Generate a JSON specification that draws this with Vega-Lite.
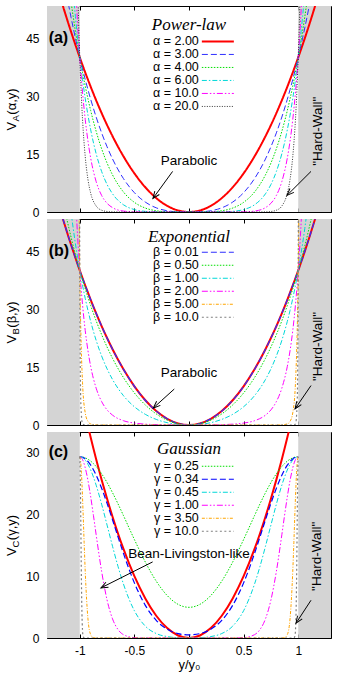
{
"$schema":"https://vega.github.io/schema/vega-lite/v6.json",
"padding":{"left":5,"top":5,"right":5,"bottom":5},
"bounds":"flush",
"spacing":7,
"config":{
 "font":"Liberation Sans",
 "view":{"stroke":null},
 "axis":{"domain":true,"domainColor":"#000","domainWidth":1,"grid":false,"ticks":true,"tickColor":"#000","tickSize":-4,"tickWidth":1,"labelFont":"Liberation Sans","labelFontSize":12,"labelColor":"#000","labelPadding":12,"titleFont":"Liberation Sans","titleFontSize":13,"titleFontWeight":"normal","titleColor":"#000","zindex":1},
 "legend":{"labelFont":"Liberation Sans","labelColor":"#000"}
},
"datasets":{
"A":[
{"y":-1.18,"a2":55.7},
{"y":-1.15,"a2":52.9,"a3":60.8},
{"y":-1.12,"a2":50.18,"a3":56.2},
{"y":-1.1,"a2":48.4,"a3":53.24,"a4":58.56},
{"y":-1.08,"a2":46.66,"a3":50.39,"a4":54.42},
{"y":-1.06,"a2":44.94,"a3":47.64,"a4":50.5,"a6":56.74},
{"y":-1.04,"a2":43.26,"a3":44.99,"a4":46.79,"a6":50.61,"a10":59.21},
{"y":-1.02,"a2":41.62,"a3":42.45,"a4":43.3,"a6":45.05,"a10":48.76,"a20":59.44},
{"y":-1.01,"a2":40.8,"a3":41.21,"a4":41.62,"a6":42.46,"a10":44.18,"a20":48.81},
{"y":-1,"a2":40,"a3":40,"a4":40,"a6":40,"a10":40,"a20":40},
{"y":-0.99,"a2":39.2,"a3":38.81,"a4":38.42,"a6":37.66,"a10":36.18,"a20":32.72},
{"y":-0.975,"a2":38.03,"a3":37.07,"a4":36.15,"a6":34.36,"a10":31.05,"a20":24.11},
{"y":-0.95,"a2":36.1,"a3":34.3,"a4":32.58,"a6":29.4,"a10":23.95,"a20":14.34},
{"y":-0.925,"a2":34.23,"a3":31.66,"a4":29.28,"a6":25.06,"a10":18.34,"a20":8.41},
{"y":-0.9,"a2":32.4,"a3":29.16,"a4":26.24,"a6":21.26,"a10":13.95,"a20":4.86},
{"y":-0.85,"a2":28.9,"a3":24.57,"a4":20.88,"a6":15.09,"a10":7.87,"a20":1.55},
{"y":-0.8,"a2":25.6,"a3":20.48,"a4":16.38,"a6":10.49,"a10":4.29,"a20":0.46},
{"y":-0.75,"a2":22.5,"a3":16.88,"a4":12.66,"a6":7.12,"a10":2.25,"a20":0.13},
{"y":-0.7,"a2":19.6,"a3":13.72,"a4":9.6,"a6":4.71,"a10":1.13,"a20":0.03},
{"y":-0.6,"a2":14.4,"a3":8.64,"a4":5.18,"a6":1.87,"a10":0.24,"a20":0},
{"y":-0.5,"a2":10,"a3":5,"a4":2.5,"a6":0.63,"a10":0.04,"a20":0},
{"y":-0.4,"a2":6.4,"a3":2.56,"a4":1.02,"a6":0.16,"a10":0,"a20":0},
{"y":-0.3,"a2":3.6,"a3":1.08,"a4":0.32,"a6":0.03,"a10":0,"a20":0},
{"y":-0.2,"a2":1.6,"a3":0.32,"a4":0.06,"a6":0,"a10":0,"a20":0},
{"y":-0.1,"a2":0.4,"a3":0.04,"a4":0,"a6":0,"a10":0,"a20":0},
{"y":0,"a2":0,"a3":0,"a4":0,"a6":0,"a10":0,"a20":0},
{"y":0.1,"a2":0.4,"a3":0.04,"a4":0,"a6":0,"a10":0,"a20":0},
{"y":0.2,"a2":1.6,"a3":0.32,"a4":0.06,"a6":0,"a10":0,"a20":0},
{"y":0.3,"a2":3.6,"a3":1.08,"a4":0.32,"a6":0.03,"a10":0,"a20":0},
{"y":0.4,"a2":6.4,"a3":2.56,"a4":1.02,"a6":0.16,"a10":0,"a20":0},
{"y":0.5,"a2":10,"a3":5,"a4":2.5,"a6":0.63,"a10":0.04,"a20":0},
{"y":0.6,"a2":14.4,"a3":8.64,"a4":5.18,"a6":1.87,"a10":0.24,"a20":0},
{"y":0.7,"a2":19.6,"a3":13.72,"a4":9.6,"a6":4.71,"a10":1.13,"a20":0.03},
{"y":0.75,"a2":22.5,"a3":16.88,"a4":12.66,"a6":7.12,"a10":2.25,"a20":0.13},
{"y":0.8,"a2":25.6,"a3":20.48,"a4":16.38,"a6":10.49,"a10":4.29,"a20":0.46},
{"y":0.85,"a2":28.9,"a3":24.57,"a4":20.88,"a6":15.09,"a10":7.87,"a20":1.55},
{"y":0.9,"a2":32.4,"a3":29.16,"a4":26.24,"a6":21.26,"a10":13.95,"a20":4.86},
{"y":0.925,"a2":34.23,"a3":31.66,"a4":29.28,"a6":25.06,"a10":18.34,"a20":8.41},
{"y":0.95,"a2":36.1,"a3":34.3,"a4":32.58,"a6":29.4,"a10":23.95,"a20":14.34},
{"y":0.975,"a2":38.03,"a3":37.07,"a4":36.15,"a6":34.36,"a10":31.05,"a20":24.11},
{"y":0.99,"a2":39.2,"a3":38.81,"a4":38.42,"a6":37.66,"a10":36.18,"a20":32.72},
{"y":1,"a2":40,"a3":40,"a4":40,"a6":40,"a10":40,"a20":40},
{"y":1.01,"a2":40.8,"a3":41.21,"a4":41.62,"a6":42.46,"a10":44.18,"a20":48.81},
{"y":1.02,"a2":41.62,"a3":42.45,"a4":43.3,"a6":45.05,"a10":48.76,"a20":59.44},
{"y":1.04,"a2":43.26,"a3":44.99,"a4":46.79,"a6":50.61,"a10":59.21},
{"y":1.06,"a2":44.94,"a3":47.64,"a4":50.5,"a6":56.74},
{"y":1.08,"a2":46.66,"a3":50.39,"a4":54.42},
{"y":1.1,"a2":48.4,"a3":53.24,"a4":58.56},
{"y":1.12,"a2":50.18,"a3":56.2},
{"y":1.15,"a2":52.9,"a3":60.8},
{"y":1.18,"a2":55.7}
],
"B":[
{"y":-1.18,"p":55.7,"e001":55.7},
{"y":-1.15,"p":52.9,"e001":52.9,"e05":57.33},
{"y":-1.12,"p":50.18,"e001":50.18,"e05":53.47},
{"y":-1.1,"p":48.4,"e001":48.4,"e05":51.01},
{"y":-1.08,"p":46.66,"e001":46.66,"e05":48.64,"e1":55.1},
{"y":-1.06,"p":44.94,"e001":44.94,"e05":46.35,"e1":50.86},
{"y":-1.04,"p":43.26,"e001":43.26,"e05":44.16,"e1":46.94,"e2":59.96},
{"y":-1.02,"p":41.62,"e001":41.62,"e05":42.04,"e1":43.33,"e2":48.92},
{"y":-1.01,"p":40.8,"e001":40.8,"e05":41.01,"e1":41.63,"e2":44.22,"e5":67.4,"e10":304},
{"y":-1,"p":40,"e001":40,"e05":40,"e1":40,"e2":40,"e5":40,"e10":40},
{"y":-0.995,"p":39.6,"e001":39.6,"e05":39.5,"e1":39.21,"e2":38.05,"e5":30.86,"e10":14.6},
{"y":-0.99,"p":39.2,"e001":39.2,"e05":39.01,"e1":38.43,"e2":36.2,"e5":23.84,"e10":5.36},
{"y":-0.975,"p":38.03,"e001":38.03,"e05":37.56,"e1":36.19,"e2":31.21,"e5":11.07,"e10":0.27},
{"y":-0.95,"p":36.1,"e001":36.1,"e05":35.23,"e1":32.75,"e2":24.44,"e5":3.15,"e10":0},
{"y":-0.925,"p":34.23,"e001":34.23,"e05":33.01,"e1":29.63,"e2":19.21,"e5":0.93,"e10":0},
{"y":-0.9,"p":32.4,"e001":32.4,"e05":30.9,"e1":26.8,"e2":15.15,"e5":0.28,"e10":0},
{"y":-0.85,"p":28.9,"e001":28.9,"e05":26.96,"e1":21.9,"e2":9.53,"e5":0.03,"e10":0},
{"y":-0.8,"p":25.6,"e001":25.6,"e05":23.4,"e1":17.86,"e2":6.07,"e5":0,"e10":0},
{"y":-0.75,"p":22.5,"e001":22.5,"e05":20.17,"e1":14.53,"e2":3.91,"e5":0,"e10":0},
{"y":-0.7,"p":19.6,"e001":19.6,"e05":17.25,"e1":11.77,"e2":2.55,"e5":0,"e10":0},
{"y":-0.6,"p":14.4,"e001":14.4,"e05":12.27,"e1":7.59,"e2":1.11,"e5":0,"e10":0},
{"y":-0.5,"p":10,"e001":10,"e05":8.29,"e1":4.72,"e2":0.5,"e5":0,"e10":0},
{"y":-0.4,"p":6.4,"e001":6.4,"e05":5.19,"e1":2.76,"e2":0.22,"e5":0,"e10":0},
{"y":-0.3,"p":3.6,"e001":3.6,"e05":2.87,"e1":1.45,"e2":0.1,"e5":0,"e10":0},
{"y":-0.2,"p":1.6,"e001":1.6,"e05":1.26,"e1":0.61,"e2":0.03,"e5":0,"e10":0},
{"y":-0.1,"p":0.4,"e001":0.4,"e05":0.31,"e1":0.15,"e2":0.01,"e5":0,"e10":0},
{"y":0,"p":0,"e001":0,"e05":0,"e1":0,"e2":0,"e5":0,"e10":0},
{"y":0.1,"p":0.4,"e001":0.4,"e05":0.31,"e1":0.15,"e2":0.01,"e5":0,"e10":0},
{"y":0.2,"p":1.6,"e001":1.6,"e05":1.26,"e1":0.61,"e2":0.03,"e5":0,"e10":0},
{"y":0.3,"p":3.6,"e001":3.6,"e05":2.87,"e1":1.45,"e2":0.1,"e5":0,"e10":0},
{"y":0.4,"p":6.4,"e001":6.4,"e05":5.19,"e1":2.76,"e2":0.22,"e5":0,"e10":0},
{"y":0.5,"p":10,"e001":10,"e05":8.29,"e1":4.72,"e2":0.5,"e5":0,"e10":0},
{"y":0.6,"p":14.4,"e001":14.4,"e05":12.27,"e1":7.59,"e2":1.11,"e5":0,"e10":0},
{"y":0.7,"p":19.6,"e001":19.6,"e05":17.25,"e1":11.77,"e2":2.55,"e5":0,"e10":0},
{"y":0.75,"p":22.5,"e001":22.5,"e05":20.17,"e1":14.53,"e2":3.91,"e5":0,"e10":0},
{"y":0.8,"p":25.6,"e001":25.6,"e05":23.4,"e1":17.86,"e2":6.07,"e5":0,"e10":0},
{"y":0.85,"p":28.9,"e001":28.9,"e05":26.96,"e1":21.9,"e2":9.53,"e5":0.03,"e10":0},
{"y":0.9,"p":32.4,"e001":32.4,"e05":30.9,"e1":26.8,"e2":15.15,"e5":0.28,"e10":0},
{"y":0.925,"p":34.23,"e001":34.23,"e05":33.01,"e1":29.63,"e2":19.21,"e5":0.93,"e10":0},
{"y":0.95,"p":36.1,"e001":36.1,"e05":35.23,"e1":32.75,"e2":24.44,"e5":3.15,"e10":0},
{"y":0.975,"p":38.03,"e001":38.03,"e05":37.56,"e1":36.19,"e2":31.21,"e5":11.07,"e10":0.27},
{"y":0.99,"p":39.2,"e001":39.2,"e05":39.01,"e1":38.43,"e2":36.2,"e5":23.84,"e10":5.36},
{"y":0.995,"p":39.6,"e001":39.6,"e05":39.5,"e1":39.21,"e2":38.05,"e5":30.86,"e10":14.6},
{"y":1,"p":40,"e001":40,"e05":40,"e1":40,"e2":40,"e5":40,"e10":40},
{"y":1.01,"p":40.8,"e001":40.8,"e05":41.01,"e1":41.63,"e2":44.22,"e5":67.4,"e10":304},
{"y":1.02,"p":41.62,"e001":41.62,"e05":42.04,"e1":43.33,"e2":48.92},
{"y":1.04,"p":43.26,"e001":43.26,"e05":44.16,"e1":46.94,"e2":59.96},
{"y":1.06,"p":44.94,"e001":44.94,"e05":46.35,"e1":50.86},
{"y":1.08,"p":46.66,"e001":46.66,"e05":48.64,"e1":55.1},
{"y":1.1,"p":48.4,"e001":48.4,"e05":51.01},
{"y":1.12,"p":50.18,"e001":50.18,"e05":53.47},
{"y":1.15,"p":52.9,"e001":52.9,"e05":57.33},
{"y":1.18,"p":55.7,"e001":55.7}
],
"C":[
{"y":-1,"g025":29.3,"g034":29.3,"g045":29.3,"g1":29.3,"g35":29.3,"g10":29.3},
{"y":-0.995,"g35":29.01,"g10":25.86},
{"y":-0.99,"g025":29.29,"g034":29.29,"g045":29.28,"g1":29.23,"g35":28.15,"g10":17.77},
{"y":-0.985,"g35":26.78,"g10":9.51},
{"y":-0.98,"g025":29.27,"g034":29.24,"g045":29.21,"g1":29.01,"g35":24.97,"g10":3.97},
{"y":-0.975,"g35":22.82,"g10":1.29},
{"y":-0.97,"g025":29.24,"g034":29.17,"g045":29.1,"g1":28.65,"g35":20.44,"g10":0.33},
{"y":-0.96,"g025":29.18,"g034":29.08,"g045":28.95,"g1":28.15,"g35":15.45,"g10":0.01},
{"y":-0.95,"p":36.1,"g025":29.12,"g034":28.95,"g045":28.75,"g1":27.52,"g35":10.78,"g10":0},
{"y":-0.925,"p":34.23,"g025":28.9,"g034":28.53,"g045":28.08,"g1":25.46,"g35":3.09,"g10":0},
{"y":-0.9,"p":32.4,"g025":28.59,"g034":27.94,"g045":27.16,"g1":22.82,"g35":0.54,"g10":0},
{"y":-0.875,"p":30.63,"g025":28.19,"g034":27.2,"g045":26.03,"g1":19.83,"g35":0.06,"g10":0},
{"y":-0.85,"p":28.9,"g025":27.72,"g034":26.32,"g045":24.71,"g1":16.7,"g35":0,"g10":0},
{"y":-0.8,"p":25.6,"g025":26.55,"g034":24.22,"g045":21.64,"g1":10.78,"g35":0,"g10":0},
{"y":-0.75,"p":22.5,"g025":25.13,"g034":21.76,"g045":18.25,"g1":6.14,"g35":0,"g10":0},
{"y":-0.7,"p":19.6,"g025":23.48,"g034":19.09,"g045":14.82,"g1":3.09,"g35":0,"g10":0},
{"y":-0.65,"p":16.9,"g025":21.69,"g034":16.35,"g045":11.58,"g1":1.37,"g35":0,"g10":0},
{"y":-0.6,"p":14.4,"g025":19.79,"g034":13.68,"g045":8.72,"g1":0.54,"g35":0,"g10":0},
{"y":-0.5,"p":10,"g025":15.92,"g034":8.91,"g045":4.41,"g1":0.06,"g35":0,"g10":0},
{"y":-0.4,"p":6.4,"g025":12.28,"g034":5.28,"g045":1.92,"g1":0,"g35":0,"g10":0},
{"y":-0.3,"p":3.6,"g025":9.19,"g034":2.85,"g045":0.72,"g1":0,"g35":0,"g10":0},
{"y":-0.2,"p":1.6,"g025":6.87,"g034":1.42,"g045":0.23,"g1":0,"g35":0,"g10":0},
{"y":-0.1,"p":0.4,"g025":5.44,"g034":0.71,"g045":0.06,"g1":0,"g35":0,"g10":0},
{"y":0,"p":0,"g025":4.96,"g034":0.5,"g045":0.03,"g1":0,"g35":0,"g10":0},
{"y":0.1,"p":0.4,"g025":5.44,"g034":0.71,"g045":0.06,"g1":0,"g35":0,"g10":0},
{"y":0.2,"p":1.6,"g025":6.87,"g034":1.42,"g045":0.23,"g1":0,"g35":0,"g10":0},
{"y":0.3,"p":3.6,"g025":9.19,"g034":2.85,"g045":0.72,"g1":0,"g35":0,"g10":0},
{"y":0.4,"p":6.4,"g025":12.28,"g034":5.28,"g045":1.92,"g1":0,"g35":0,"g10":0},
{"y":0.5,"p":10,"g025":15.92,"g034":8.91,"g045":4.41,"g1":0.06,"g35":0,"g10":0},
{"y":0.6,"p":14.4,"g025":19.79,"g034":13.68,"g045":8.72,"g1":0.54,"g35":0,"g10":0},
{"y":0.65,"p":16.9,"g025":21.69,"g034":16.35,"g045":11.58,"g1":1.37,"g35":0,"g10":0},
{"y":0.7,"p":19.6,"g025":23.48,"g034":19.09,"g045":14.82,"g1":3.09,"g35":0,"g10":0},
{"y":0.75,"p":22.5,"g025":25.13,"g034":21.76,"g045":18.25,"g1":6.14,"g35":0,"g10":0},
{"y":0.8,"p":25.6,"g025":26.55,"g034":24.22,"g045":21.64,"g1":10.78,"g35":0,"g10":0},
{"y":0.85,"p":28.9,"g025":27.72,"g034":26.32,"g045":24.71,"g1":16.7,"g35":0,"g10":0},
{"y":0.875,"p":30.63,"g025":28.19,"g034":27.2,"g045":26.03,"g1":19.83,"g35":0.06,"g10":0},
{"y":0.9,"p":32.4,"g025":28.59,"g034":27.94,"g045":27.16,"g1":22.82,"g35":0.54,"g10":0},
{"y":0.925,"p":34.23,"g025":28.9,"g034":28.53,"g045":28.08,"g1":25.46,"g35":3.09,"g10":0},
{"y":0.95,"p":36.1,"g025":29.12,"g034":28.95,"g045":28.75,"g1":27.52,"g35":10.78,"g10":0},
{"y":0.96,"g025":29.18,"g034":29.08,"g045":28.95,"g1":28.15,"g35":15.45,"g10":0.01},
{"y":0.97,"g025":29.24,"g034":29.17,"g045":29.1,"g1":28.65,"g35":20.44,"g10":0.33},
{"y":0.975,"g35":22.82,"g10":1.29},
{"y":0.98,"g025":29.27,"g034":29.24,"g045":29.21,"g1":29.01,"g35":24.97,"g10":3.97},
{"y":0.985,"g35":26.78,"g10":9.51},
{"y":0.99,"g025":29.29,"g034":29.29,"g045":29.28,"g1":29.23,"g35":28.15,"g10":17.77},
{"y":0.995,"g35":29.01,"g10":25.86},
{"y":1,"g025":29.3,"g034":29.3,"g045":29.3,"g1":29.3,"g35":29.3,"g10":29.3}
]
},
"resolve":{"scale":{"color":"independent","strokeDash":"independent","strokeWidth":"independent"}},
"vconcat":[
{
"width":284,"height":206,
"data":{"values":[{}]},
"resolve":{"axis":{"x":"independent","y":"independent"}},
"layer":[
{"mark":{"type":"rect","color":"#d4d4d4"},"encoding":{"x":{"datum":-1.3,"type":"quantitative","scale":{"domain":[-1.3,1.3],"nice":false,"zero":false},"axis":null},"x2":{"datum":-1},"y":{"datum":0,"type":"quantitative","scale":{"domain":[0,53.3],"nice":false,"zero":false},"axis":null},"y2":{"datum":53.3}}},
{"mark":{"type":"rect","color":"#d4d4d4"},"encoding":{"x":{"datum":1,"type":"quantitative","scale":{"domain":[-1.3,1.3],"nice":false,"zero":false},"axis":null},"x2":{"datum":1.3},"y":{"datum":0,"type":"quantitative","scale":{"domain":[0,53.3],"nice":false,"zero":false},"axis":null},"y2":{"datum":53.3}}},
{"data":{"name":"A"},"transform":[{"fold":["a2","a3","a4","a6","a10","a20"],"as":["s","v"]},{"filter":"isValid(datum.v)"}],
 "mark":{"type":"line","clip":true,"interpolate":"monotone"},
 "encoding":{
  "x":{"field":"y","type":"quantitative","scale":{"domain":[-1.3,1.3],"nice":false,"zero":false},"axis":{"orient":"bottom","values":[-1,-0.5,0,0.5,1],"labels":false,"title":null}},
  "y":{"field":"v","type":"quantitative","scale":{"domain":[0,53.3],"nice":false,"zero":false},"axis":{"orient":"left","values":[0,15,30,45],"title":"V\u00a0\u00a0(α,y)","titleX":-32,"titleY":103,"titleAngle":270,"titleAlign":"center","titleBaseline":"alphabetic"}},
  "color":{"field":"s","type":"nominal","scale":{"domain":["a2","a3","a4","a6","a10","a20"],"range":["#ff0000","#2f2fff","#00e000","#00d8d8","#ff00ff","#000000"]},
   "legend":{"title":null,"orient":"none","legendX":164.6,"legendY":29.2,"symbolType":"M-8,0H8","symbolSize":16,"rowPadding":-0.3,"labelAlign":"right","labelOffset":-25.3,"labelFontSize":12.5,"padding":0,
   "labelExpr":"{'a2':'α = 2.00','a3':'α = 3.00','a4':'α = 4.00','a6':'α = 6.00','a10':'α = 10.0','a20':'α = 20.0'}[datum.label]"}},
  "strokeDash":{"field":"s","type":"nominal","scale":{"domain":["a2","a3","a4","a6","a10","a20"],"range":[[1,0],[6,3],[1.5,1.5],[5,2,1.5,2],[6,2,1.5,2,1.5,2],[1,1.5]]}},
  "strokeWidth":{"field":"s","type":"nominal","scale":{"type":"ordinal","domain":["a2","a3","a4","a6","a10","a20"],"range":[2,1,1,1,1,0.8]}}
 }},
{"mark":{"type":"point","opacity":0},"encoding":{"x":{"datum":0,"type":"quantitative","scale":{"domain":[-1.3,1.3],"nice":false,"zero":false},"axis":{"orient":"top","values":[-1,-0.5,0,0.5,1],"labels":false,"title":null}},"y":{"datum":0,"type":"quantitative","scale":{"domain":[0,53.3],"nice":false,"zero":false},"axis":{"orient":"right","values":[0,15,30,45],"labels":false,"title":null}}}},
{"mark":{"type":"point","opacity":0},"encoding":{"x":{"datum":0,"type":"quantitative","scale":{"domain":[-1.3,1.3],"nice":false,"zero":false},"axis":null},"y":{"datum":0,"type":"quantitative","scale":{"domain":[0,53.3],"nice":false,"zero":false},"axis":{"orient":"left","labels":false,"ticks":false,"domain":false,"title":"A","titleX":-29,"titleY":111.8,"titleAngle":270,"titleAlign":"center","titleBaseline":"alphabetic","titleFontSize":9.5}}}},
{"mark":{"type":"text","text":"Power-law","font":"Liberation Serif","fontStyle":"italic","fontSize":17},"encoding":{"x":{"datum":0,"type":"quantitative","scale":{"domain":[-1.3,1.3],"nice":false,"zero":false},"axis":null},"y":{"datum":48.5,"type":"quantitative","scale":{"domain":[0,53.3],"nice":false,"zero":false},"axis":null}}},
{"mark":{"type":"text","text":"(a)","fontWeight":"bold","fontSize":16,"align":"left"},"encoding":{"x":{"datum":-1.285,"type":"quantitative","scale":{"domain":[-1.3,1.3],"nice":false,"zero":false},"axis":null},"y":{"datum":45,"type":"quantitative","scale":{"domain":[0,53.3],"nice":false,"zero":false},"axis":null}}},
{"mark":{"type":"text","text":"Parabolic","fontSize":13.5},"encoding":{"x":{"datum":0,"type":"quantitative","scale":{"domain":[-1.3,1.3],"nice":false,"zero":false},"axis":null},"y":{"datum":13.1,"type":"quantitative","scale":{"domain":[0,53.3],"nice":false,"zero":false},"axis":null}}},
{"mark":{"type":"text","text":"\"Hard-Wall\"","fontSize":13.5,"angle":270},"encoding":{"x":{"datum":1.178,"type":"quantitative","scale":{"domain":[-1.3,1.3],"nice":false,"zero":false},"axis":null},"y":{"datum":20.9,"type":"quantitative","scale":{"domain":[0,53.3],"nice":false,"zero":false},"axis":null}}},
{"mark":{"type":"rule","color":"#000","strokeWidth":1},"encoding":{"x":{"datum":-0.15,"type":"quantitative","scale":{"domain":[-1.3,1.3],"nice":false,"zero":false},"axis":null},"x2":{"datum":-0.33},"y":{"datum":10.5,"type":"quantitative","scale":{"domain":[0,53.3],"nice":false,"zero":false},"axis":null},"y2":{"datum":3.5}}},
{"mark":{"type":"rule","color":"#000","strokeWidth":1},"encoding":{"x":{"datum":1.117,"type":"quantitative","scale":{"domain":[-1.3,1.3],"nice":false,"zero":false},"axis":null},"x2":{"datum":0.897},"y":{"datum":10.5,"type":"quantitative","scale":{"domain":[0,53.3],"nice":false,"zero":false},"axis":null},"y2":{"datum":4.3}}},
{"mark":{"type":"point","shape":"M-0.4,1L0,0L0.4,1","size":196,"filled":false,"stroke":"#000","strokeWidth":1,"opacity":1,"angle":216},"encoding":{"x":{"datum":-0.33,"type":"quantitative","scale":{"domain":[-1.3,1.3],"nice":false,"zero":false},"axis":null},"y":{"datum":3.5,"type":"quantitative","scale":{"domain":[0,53.3],"nice":false,"zero":false},"axis":null}}},
{"mark":{"type":"point","shape":"M-0.4,1L0,0L0.4,1","size":196,"filled":false,"stroke":"#000","strokeWidth":1,"opacity":1,"angle":225},"encoding":{"x":{"datum":0.897,"type":"quantitative","scale":{"domain":[-1.3,1.3],"nice":false,"zero":false},"axis":null},"y":{"datum":4.3,"type":"quantitative","scale":{"domain":[0,53.3],"nice":false,"zero":false},"axis":null}}}
]
},
{
"width":284,"height":206,
"data":{"values":[{}]},
"resolve":{"axis":{"x":"independent","y":"independent"}},
"layer":[
{"mark":{"type":"rect","color":"#d4d4d4"},"encoding":{"x":{"datum":-1.3,"type":"quantitative","scale":{"domain":[-1.3,1.3],"nice":false,"zero":false},"axis":null},"x2":{"datum":-1},"y":{"datum":0,"type":"quantitative","scale":{"domain":[0,53.3],"nice":false,"zero":false},"axis":null},"y2":{"datum":53.3}}},
{"mark":{"type":"rect","color":"#d4d4d4"},"encoding":{"x":{"datum":1,"type":"quantitative","scale":{"domain":[-1.3,1.3],"nice":false,"zero":false},"axis":null},"x2":{"datum":1.3},"y":{"datum":0,"type":"quantitative","scale":{"domain":[0,53.3],"nice":false,"zero":false},"axis":null},"y2":{"datum":53.3}}},
{"data":{"name":"B"},"transform":[{"filter":"isValid(datum.p)"}],"mark":{"type":"line","clip":true,"interpolate":"monotone","color":"#ff0000","strokeWidth":2},
 "encoding":{"x":{"field":"y","type":"quantitative","scale":{"domain":[-1.3,1.3],"nice":false,"zero":false},"axis":null},"y":{"field":"p","type":"quantitative","scale":{"domain":[0,53.3],"nice":false,"zero":false},"axis":null}}},
{"data":{"name":"B"},"transform":[{"fold":["e001","e05","e1","e2","e5","e10"],"as":["s","v"]},{"filter":"isValid(datum.v)"}],
 "mark":{"type":"line","clip":true,"interpolate":"monotone"},
 "encoding":{
  "x":{"field":"y","type":"quantitative","scale":{"domain":[-1.3,1.3],"nice":false,"zero":false},"axis":{"orient":"bottom","values":[-1,-0.5,0,0.5,1],"labels":false,"title":null}},
  "y":{"field":"v","type":"quantitative","scale":{"domain":[0,53.3],"nice":false,"zero":false},"axis":{"orient":"left","values":[0,15,30,45],"title":"V\u00a0\u00a0(β,y)","titleX":-32,"titleY":103,"titleAngle":270,"titleAlign":"center","titleBaseline":"alphabetic"}},
  "color":{"field":"s","type":"nominal","scale":{"domain":["e001","e05","e1","e2","e5","e10"],"range":["#2f2fff","#00e000","#00d8d8","#ff00ff","#ffa500","#808080"]},
   "legend":{"title":null,"orient":"none","legendX":164.6,"legendY":27,"symbolType":"M-8,0H8","symbolSize":16,"rowPadding":0,"labelAlign":"right","labelOffset":-25.3,"labelFontSize":12.5,"padding":0,
   "labelExpr":"{'e001':'β = 0.01','e05':'β = 0.50','e1':'β = 1.00','e2':'β = 2.00','e5':'β = 5.00','e10':'β = 10.0'}[datum.label]"}},
  "strokeDash":{"field":"s","type":"nominal","scale":{"domain":["e001","e05","e1","e2","e5","e10"],"range":[[6,3],[1.5,1.5],[5,2,1.5,2],[6,2,1.5,2,1.5,2],[3,1.5,1,1.5],[2,2.5]]}},
  "strokeWidth":{"field":"s","type":"nominal","scale":{"type":"ordinal","domain":["e001","e05","e1","e2","e5","e10"],"range":[1.2,1,1,1,1,1.2]}}
 }},
{"mark":{"type":"point","opacity":0},"encoding":{"x":{"datum":0,"type":"quantitative","scale":{"domain":[-1.3,1.3],"nice":false,"zero":false},"axis":{"orient":"top","values":[-1,-0.5,0,0.5,1],"labels":false,"title":null}},"y":{"datum":0,"type":"quantitative","scale":{"domain":[0,53.3],"nice":false,"zero":false},"axis":{"orient":"right","values":[0,15,30,45],"labels":false,"title":null}}}},
{"mark":{"type":"point","opacity":0},"encoding":{"x":{"datum":0,"type":"quantitative","scale":{"domain":[-1.3,1.3],"nice":false,"zero":false},"axis":null},"y":{"datum":0,"type":"quantitative","scale":{"domain":[0,53.3],"nice":false,"zero":false},"axis":{"orient":"left","labels":false,"ticks":false,"domain":false,"title":"B","titleX":-29,"titleY":111.8,"titleAngle":270,"titleAlign":"center","titleBaseline":"alphabetic","titleFontSize":9.5}}}},
{"mark":{"type":"text","text":"Exponential","font":"Liberation Serif","fontStyle":"italic","fontSize":17},"encoding":{"x":{"datum":0,"type":"quantitative","scale":{"domain":[-1.3,1.3],"nice":false,"zero":false},"axis":null},"y":{"datum":48.6,"type":"quantitative","scale":{"domain":[0,53.3],"nice":false,"zero":false},"axis":null}}},
{"mark":{"type":"text","text":"(b)","fontWeight":"bold","fontSize":16,"align":"left"},"encoding":{"x":{"datum":-1.285,"type":"quantitative","scale":{"domain":[-1.3,1.3],"nice":false,"zero":false},"axis":null},"y":{"datum":45,"type":"quantitative","scale":{"domain":[0,53.3],"nice":false,"zero":false},"axis":null}}},
{"mark":{"type":"text","text":"Parabolic","fontSize":13.5},"encoding":{"x":{"datum":0,"type":"quantitative","scale":{"domain":[-1.3,1.3],"nice":false,"zero":false},"axis":null},"y":{"datum":13.5,"type":"quantitative","scale":{"domain":[0,53.3],"nice":false,"zero":false},"axis":null}}},
{"mark":{"type":"text","text":"\"Hard-Wall\"","fontSize":13.5,"angle":270},"encoding":{"x":{"datum":1.178,"type":"quantitative","scale":{"domain":[-1.3,1.3],"nice":false,"zero":false},"axis":null},"y":{"datum":20.3,"type":"quantitative","scale":{"domain":[0,53.3],"nice":false,"zero":false},"axis":null}}},
{"mark":{"type":"rule","color":"#000","strokeWidth":1},"encoding":{"x":{"datum":-0.135,"type":"quantitative","scale":{"domain":[-1.3,1.3],"nice":false,"zero":false},"axis":null},"x2":{"datum":-0.327},"y":{"datum":9.3,"type":"quantitative","scale":{"domain":[0,53.3],"nice":false,"zero":false},"axis":null},"y2":{"datum":4.4}}},
{"mark":{"type":"rule","color":"#000","strokeWidth":1},"encoding":{"x":{"datum":1.117,"type":"quantitative","scale":{"domain":[-1.3,1.3],"nice":false,"zero":false},"axis":null},"x2":{"datum":0.971},"y":{"datum":10.2,"type":"quantitative","scale":{"domain":[0,53.3],"nice":false,"zero":false},"axis":null},"y2":{"datum":4.2}}},
{"mark":{"type":"point","shape":"M-0.4,1L0,0L0.4,1","size":196,"filled":false,"stroke":"#000","strokeWidth":1,"opacity":1,"angle":228},"encoding":{"x":{"datum":-0.327,"type":"quantitative","scale":{"domain":[-1.3,1.3],"nice":false,"zero":false},"axis":null},"y":{"datum":4.4,"type":"quantitative","scale":{"domain":[0,53.3],"nice":false,"zero":false},"axis":null}}},
{"mark":{"type":"point","shape":"M-0.4,1L0,0L0.4,1","size":196,"filled":false,"stroke":"#000","strokeWidth":1,"opacity":1,"angle":214.4},"encoding":{"x":{"datum":0.971,"type":"quantitative","scale":{"domain":[-1.3,1.3],"nice":false,"zero":false},"axis":null},"y":{"datum":4.2,"type":"quantitative","scale":{"domain":[0,53.3],"nice":false,"zero":false},"axis":null}}}
]
},
{
"width":284,"height":206,
"data":{"values":[{}]},
"resolve":{"axis":{"x":"independent","y":"independent"}},
"layer":[
{"mark":{"type":"rect","color":"#d4d4d4"},"encoding":{"x":{"datum":-1.3,"type":"quantitative","scale":{"domain":[-1.3,1.3],"nice":false,"zero":false},"axis":null},"x2":{"datum":-1},"y":{"datum":0,"type":"quantitative","scale":{"domain":[0,33.3],"nice":false,"zero":false},"axis":null},"y2":{"datum":33.3}}},
{"mark":{"type":"rect","color":"#d4d4d4"},"encoding":{"x":{"datum":1,"type":"quantitative","scale":{"domain":[-1.3,1.3],"nice":false,"zero":false},"axis":null},"x2":{"datum":1.3},"y":{"datum":0,"type":"quantitative","scale":{"domain":[0,33.3],"nice":false,"zero":false},"axis":null},"y2":{"datum":33.3}}},
{"data":{"name":"C"},"transform":[{"filter":"isValid(datum.p)"}],"mark":{"type":"line","clip":true,"interpolate":"monotone","color":"#ff0000","strokeWidth":2},
 "encoding":{"x":{"field":"y","type":"quantitative","scale":{"domain":[-1.3,1.3],"nice":false,"zero":false},"axis":null},"y":{"field":"p","type":"quantitative","scale":{"domain":[0,33.3],"nice":false,"zero":false},"axis":null}}},
{"data":{"name":"C"},"transform":[{"fold":["g025","g034","g045","g1","g35","g10"],"as":["s","v"]},{"filter":"isValid(datum.v)"}],
 "mark":{"type":"line","clip":true,"interpolate":"monotone"},
 "encoding":{
  "x":{"field":"y","type":"quantitative","scale":{"domain":[-1.3,1.3],"nice":false,"zero":false},"axis":{"orient":"bottom","values":[-1,-0.5,0,0.5,1],"labelExpr":"datum.value","labelPadding":11,"title":"y/y₀","titlePadding":2}},
  "y":{"field":"v","type":"quantitative","scale":{"domain":[0,33.3],"nice":false,"zero":false},"axis":{"orient":"left","values":[0,10,20,30],"title":"V\u00a0\u00a0(γ,y)","titleX":-32,"titleY":103,"titleAngle":270,"titleAlign":"center","titleBaseline":"alphabetic"}},
  "color":{"field":"s","type":"nominal","scale":{"domain":["g025","g034","g045","g1","g35","g10"],"range":["#00e000","#0000ff","#00d8d8","#ff00ff","#ffa500","#808080"]},
   "legend":{"title":null,"orient":"none","legendX":164.6,"legendY":28,"symbolType":"M-8,0H8","symbolSize":16,"rowPadding":0,"labelAlign":"right","labelOffset":-25.3,"labelFontSize":12.5,"padding":0,
   "labelExpr":"{'g025':'γ = 0.25','g034':'γ = 0.34','g045':'γ = 0.45','g1':'γ = 1.00','g35':'γ = 3.50','g10':'γ = 10.0'}[datum.label]"}},
  "strokeDash":{"field":"s","type":"nominal","scale":{"domain":["g025","g034","g045","g1","g35","g10"],"range":[[1.5,1.5],[6,3],[5,2,1.5,2],[6,2,1.5,2,1.5,2],[3,1.5,1,1.5],[2,2.5]]}},
  "strokeWidth":{"field":"s","type":"nominal","scale":{"type":"ordinal","domain":["g025","g034","g045","g1","g35","g10"],"range":[1,1.2,1,1,1,1.2]}}
 }},
{"mark":{"type":"point","opacity":0},"encoding":{"x":{"datum":0,"type":"quantitative","scale":{"domain":[-1.3,1.3],"nice":false,"zero":false},"axis":{"orient":"top","values":[-1,-0.5,0,0.5,1],"labels":false,"title":null}},"y":{"datum":0,"type":"quantitative","scale":{"domain":[0,33.3],"nice":false,"zero":false},"axis":{"orient":"right","values":[0,10,20,30],"labels":false,"title":null}}}},
{"mark":{"type":"point","opacity":0},"encoding":{"x":{"datum":0,"type":"quantitative","scale":{"domain":[-1.3,1.3],"nice":false,"zero":false},"axis":null},"y":{"datum":0,"type":"quantitative","scale":{"domain":[0,33.3],"nice":false,"zero":false},"axis":{"orient":"left","labels":false,"ticks":false,"domain":false,"title":"C","titleX":-29,"titleY":111.5,"titleAngle":270,"titleAlign":"center","titleBaseline":"alphabetic","titleFontSize":9.5}}}},
{"mark":{"type":"text","text":"Gaussian","font":"Liberation Serif","fontStyle":"italic","fontSize":17},"encoding":{"x":{"datum":0,"type":"quantitative","scale":{"domain":[-1.3,1.3],"nice":false,"zero":false},"axis":null},"y":{"datum":30.6,"type":"quantitative","scale":{"domain":[0,33.3],"nice":false,"zero":false},"axis":null}}},
{"mark":{"type":"text","text":"(c)","fontWeight":"bold","fontSize":16,"align":"left"},"encoding":{"x":{"datum":-1.285,"type":"quantitative","scale":{"domain":[-1.3,1.3],"nice":false,"zero":false},"axis":null},"y":{"datum":30,"type":"quantitative","scale":{"domain":[0,33.3],"nice":false,"zero":false},"axis":null}}},
{"mark":{"type":"text","text":"Bean-Livingston-like","fontSize":13.5},"encoding":{"x":{"datum":0,"type":"quantitative","scale":{"domain":[-1.3,1.3],"nice":false,"zero":false},"axis":null},"y":{"datum":13.6,"type":"quantitative","scale":{"domain":[0,33.3],"nice":false,"zero":false},"axis":null}}},
{"mark":{"type":"text","text":"\"Hard-Wall\"","fontSize":13.5,"angle":270},"encoding":{"x":{"datum":1.172,"type":"quantitative","scale":{"domain":[-1.3,1.3],"nice":false,"zero":false},"axis":null},"y":{"datum":13.2,"type":"quantitative","scale":{"domain":[0,33.3],"nice":false,"zero":false},"axis":null}}},
{"mark":{"type":"rule","color":"#000","strokeWidth":1},"encoding":{"x":{"datum":-0.333,"type":"quantitative","scale":{"domain":[-1.3,1.3],"nice":false,"zero":false},"axis":null},"x2":{"datum":-0.806},"y":{"datum":12.3,"type":"quantitative","scale":{"domain":[0,33.3],"nice":false,"zero":false},"axis":null},"y2":{"datum":8.1}}},
{"mark":{"type":"rule","color":"#000","strokeWidth":1},"encoding":{"x":{"datum":1.117,"type":"quantitative","scale":{"domain":[-1.3,1.3],"nice":false,"zero":false},"axis":null},"x2":{"datum":0.98},"y":{"datum":6.1,"type":"quantitative","scale":{"domain":[0,33.3],"nice":false,"zero":false},"axis":null},"y2":{"datum":2.4}}},
{"mark":{"type":"point","shape":"M-0.4,1L0,0L0.4,1","size":196,"filled":false,"stroke":"#000","strokeWidth":1,"opacity":1,"angle":243.3},"encoding":{"x":{"datum":-0.806,"type":"quantitative","scale":{"domain":[-1.3,1.3],"nice":false,"zero":false},"axis":null},"y":{"datum":8.1,"type":"quantitative","scale":{"domain":[0,33.3],"nice":false,"zero":false},"axis":null}}},
{"mark":{"type":"point","shape":"M-0.4,1L0,0L0.4,1","size":196,"filled":false,"stroke":"#000","strokeWidth":1,"opacity":1,"angle":213.2},"encoding":{"x":{"datum":0.98,"type":"quantitative","scale":{"domain":[-1.3,1.3],"nice":false,"zero":false},"axis":null},"y":{"datum":2.4,"type":"quantitative","scale":{"domain":[0,33.3],"nice":false,"zero":false},"axis":null}}}
]
}
]
}
